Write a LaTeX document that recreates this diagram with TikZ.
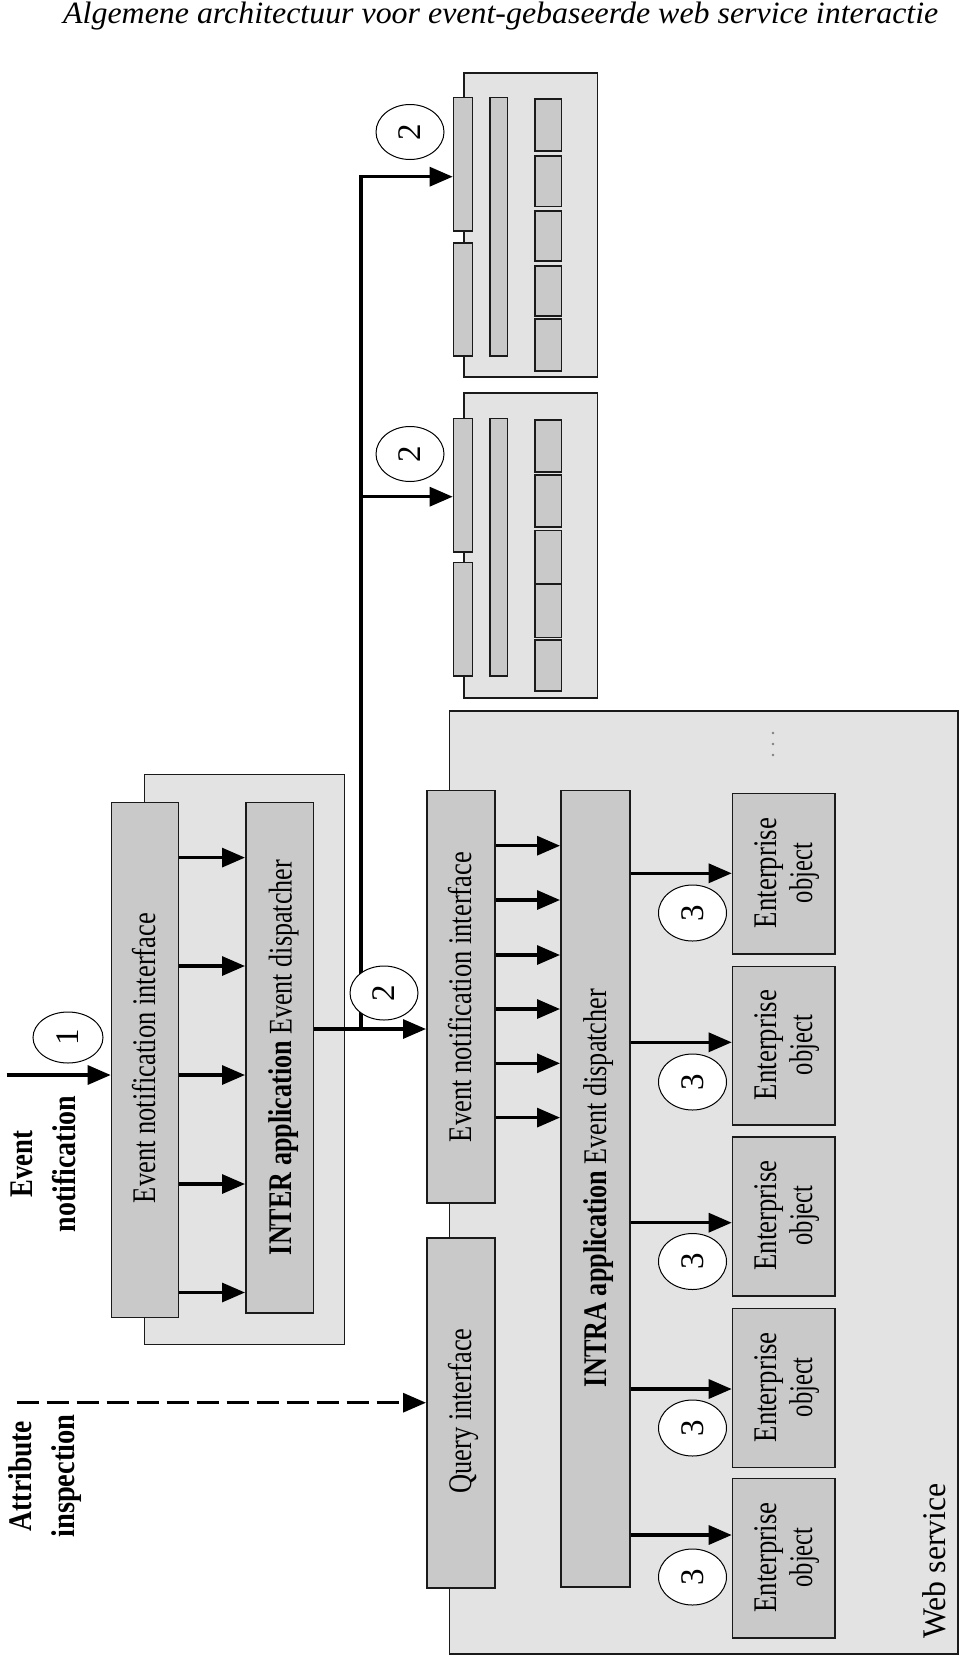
\documentclass[tikz,border=0pt]{standalone}
\usepackage{fontspec}
\setmainfont{Liberation Serif}
\usepackage{graphicx}
\usetikzlibrary{arrows.meta,shapes.geometric}
\definecolor{lightfill}{HTML}{E3E3E3}
\definecolor{darkfill}{HTML}{C9C9C9}
\definecolor{edge}{HTML}{1A1A1A}
\newcommand{\fitto}[2]{\resizebox{#1pt}{\height}{#2}}
\begin{document}
\begin{tikzpicture}[x=1pt,y=-1pt,
 container/.style={draw=edge, fill=lightfill, line width=1.6pt, anchor=north west, inner sep=0},
 boxd/.style={draw=edge, fill=darkfill, line width=1.6pt, anchor=north west, inner sep=0},
 conn/.style={line width=3.2pt, -{Triangle[length=23pt,width=19pt]}},
 dconn/.style={conn, dash pattern=on 22pt off 8pt},
 bubble/.style={ellipse, draw=black, line width=1pt, fill=white, inner sep=0, font=\fontsize{33}{33}\selectfont},
 lbl/.style={rotate=90, anchor=base, inner sep=0, font=\fontsize{33}{33}\selectfont},
 blbl/.style={rotate=90, anchor=base, inner sep=0, font=\fontsize{33}{33}\selectfont\bfseries},
]
\useasboundingbox (0,0) rectangle (960,1657);
\fill[white] (0,0) rectangle (960,1657);

% title
\node[anchor=base west, inner sep=0, font=\fontsize{31}{31}\selectfont\itshape] (title) at (63,23.5)
  {\fitto{875}{Algemene architectuur voor event-gebaseerde web service interactie}};

% INTER application
\node[container, minimum width=199.8pt, minimum height=570pt] (cI) at (143.8,773.5) {};
\node[boxd, minimum width=67pt, minimum height=515pt] (enI) at (110.7,801.5) {};
\node[boxd, minimum width=67.8pt, minimum height=510.5pt] (dispI) at (245,801.5) {};

% Web service
\node[container, minimum width=508.5pt, minimum height=943pt] (ws) at (448.5,710) {};
\node[boxd, minimum width=68.3pt, minimum height=412.5pt] (enW) at (426,789.5) {};
\node[boxd, minimum width=68.3pt, minimum height=350.3pt] (qry) at (426,1237) {};
\node[boxd, minimum width=69.3pt, minimum height=796.5pt] (intra) at (560,789.5) {};
\node[boxd, minimum width=102.3pt, minimum height=160.6pt] (eo1) at (731.7,792.7) {};
\node[boxd, minimum width=102.3pt, minimum height=158.5pt] (eo2) at (731.7,965.7) {};
\node[boxd, minimum width=102.3pt, minimum height=159pt] (eo3) at (731.7,1136) {};
\node[boxd, minimum width=102.3pt, minimum height=159pt] (eo4) at (731.7,1307.7) {};
\node[boxd, minimum width=102.3pt, minimum height=159.6pt] (eo5) at (731.7,1477.7) {};
\fill[gray] (773,733) circle (1.3pt) (773,744) circle (1.3pt) (773,755) circle (1.3pt);

% Sink A
\node[container, minimum width=133.4pt, minimum height=303.7pt] (sA) at (463.3,72.3) {};
\node[boxd, minimum width=19pt, minimum height=133.3pt] (aL1) at (452.7,96.7) {};
\node[boxd, minimum width=19pt, minimum height=112.7pt] (aL2) at (452.7,242.3) {};
\node[boxd, minimum width=17.4pt, minimum height=258.3pt] (aM) at (489.3,96.7) {};
\node[boxd, minimum width=26.5pt, minimum height=51.7pt] (aS1) at (534,98.3) {};
\node[boxd, minimum width=26.5pt, minimum height=50.7pt] (aS2) at (534,155) {};
\node[boxd, minimum width=26.5pt, minimum height=50pt] (aS3) at (534,210) {};
\node[boxd, minimum width=26.5pt, minimum height=50pt] (aS4) at (534,265) {};
\node[boxd, minimum width=26.5pt, minimum height=51.7pt] (aS5) at (534,318.3) {};

% Sink B
\node[container, minimum width=133.4pt, minimum height=305pt] (sB) at (463.3,392.3) {};
\node[boxd, minimum width=19pt, minimum height=133.3pt] (bL1) at (452.7,417.7) {};
\node[boxd, minimum width=19pt, minimum height=113.3pt] (bL2) at (452.7,561.7) {};
\node[boxd, minimum width=17.4pt, minimum height=257.3pt] (bM) at (489.3,417.7) {};
\node[boxd, minimum width=26.5pt, minimum height=51.7pt] (bS1) at (534,419.3) {};
\node[boxd, minimum width=26.5pt, minimum height=51.7pt] (bS2) at (534,474.3) {};
\node[boxd, minimum width=26.5pt, minimum height=53.6pt] (bS3) at (534,529.7) {};
\node[boxd, minimum width=26.5pt, minimum height=53.4pt] (bS4) at (534,583.3) {};
\node[boxd, minimum width=26.5pt, minimum height=50.7pt] (bS5) at (534,639.3) {};

% connectors
\foreach \yy in {857.6,966,1075,1184,1292.5}
  \draw[conn] (enI.east |- 0,\yy) -- (dispI.west |- 0,\yy);
\foreach \yy in {845.7,900,955,1009,1063.3,1117.6}
  \draw[conn] (enW.east |- 0,\yy) -- (intra.west |- 0,\yy);
\foreach \n/\yy in {1/873.3,2/1042.3,3/1222.7,4/1389,5/1535}
  \draw[conn] (intra.east |- 0,\yy) -- (eo\n.west |- 0,\yy);

\coordinate (evsrc) at (6.7,1075);
\draw[conn] (evsrc) -- (enI.west |- evsrc);
\coordinate (atsrc) at (16.7,1402.7);
\draw[dconn] (atsrc) -- (qry.west |- atsrc);

\coordinate (jn) at (361,1030.5);
\coordinate (jh) at (361,1029);
\coordinate (jt) at (361,176.7);
\coordinate (jb) at (361,496.7);
\draw[conn] (dispI.east |- jh) -- (enW.west |- jh);
\draw[conn, line join=miter] (jn) -- (jt) -- (aL1.west |- jt);
\draw[conn] (jb) -- (bL1.west |- jb);

% numbered bubbles
\node[bubble, minimum width=70pt, minimum height=51pt] (c1) at (68,1037.5) {\rotatebox{90}{1}};
\node[bubble, minimum width=68pt, minimum height=54pt] (c2) at (384,993) {\rotatebox{90}{2}};
\node[bubble, minimum width=68pt, minimum height=55pt] (c2a) at (410,132) {\rotatebox{90}{2}};
\node[bubble, minimum width=68pt, minimum height=55pt] (c2b) at (410,454) {\rotatebox{90}{2}};
\foreach \i/\yy in {1/913,2/1082,3/1261.5,4/1428,5/1577}
  \node[bubble, minimum width=68pt, minimum height=56pt] (c3\i) at (692.5,\yy) {\rotatebox{90}{3}};

% labels
\node[blbl] (tEvent) at (33,1164) {\fitto{66.7}{Event}};
\node[blbl] (tNotif) at (75,1164) {\fitto{136.7}{notification}};
\node[blbl] (tAttr) at (31.7,1476) {\fitto{110}{Attribute}};
\node[blbl] (tInsp) at (74.5,1476) {\fitto{123.4}{inspection}};

\node[lbl] (tEnI) at (155,1058) {\fitto{290}{Event notification interface}};
\node[lbl] (tDispI) at (291.5,1057.5) {\fitto{395}{\textbf{INTER application} Event dispatcher}};
\node[lbl] (tEnW) at (471,997) {\fitto{290}{Event notification interface}};
\node[lbl] (tQry) at (471,1411) {\fitto{165}{Query interface}};
\node[lbl] (tIntra) at (606,1188) {\fitto{398}{\textbf{INTRA application} Event dispatcher}};
\foreach \i/\yy in {1/873,2/1045,3/1215.5,4/1387.2,5/1557.5} {
  \node[lbl] (te\i) at (776.7,\yy) {\fitto{110}{Enterprise}};
  \node[lbl] (to\i) at (812,\yy) {\fitto{60}{object}};
}
\node[lbl] (tWS) at (945,1561) {\fitto{155}{Web service}};
\end{tikzpicture}
\end{document}
